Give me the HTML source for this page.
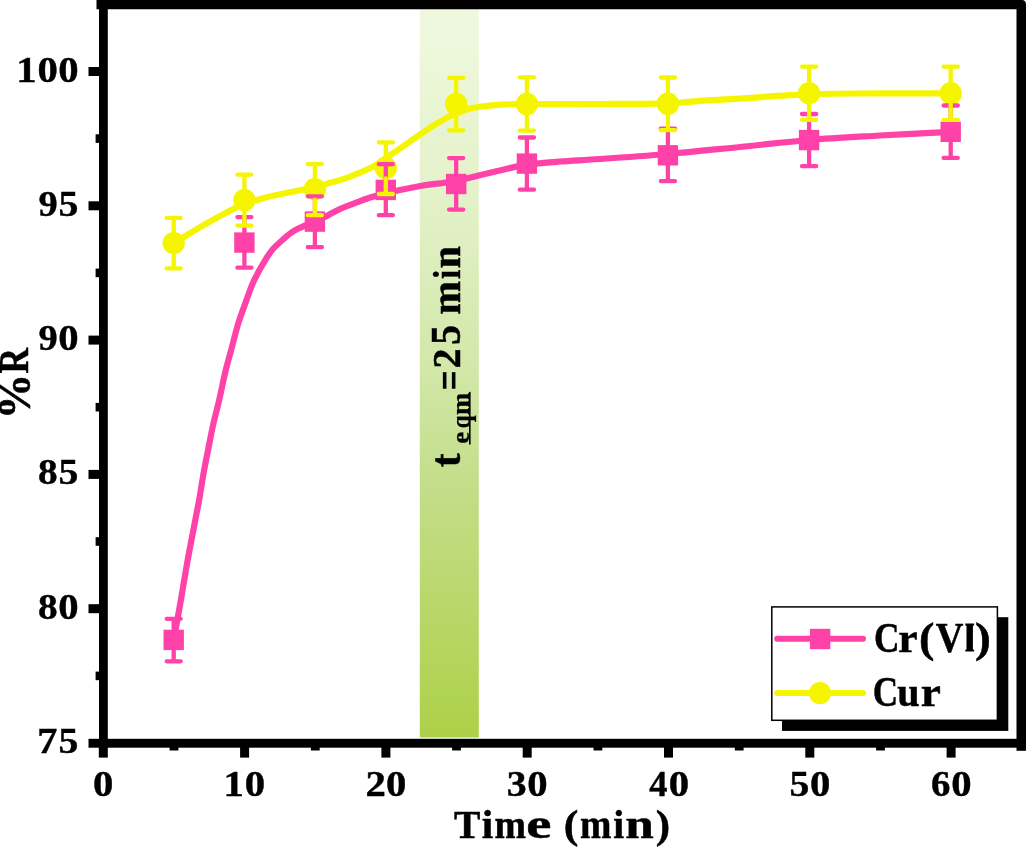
<!DOCTYPE html>
<html><head><meta charset="utf-8"><title>chart</title>
<style>html,body{margin:0;padding:0;background:#fff;}body{width:1026px;height:847px;overflow:hidden;}svg{display:block;will-change:transform;}text{font-family:"Liberation Serif",serif;font-weight:bold;fill:#000;}</style>
</head><body>
<svg width="1026" height="847" viewBox="0 0 1026 847">
<defs><linearGradient id="gb" x1="0" y1="0" x2="0" y2="1"><stop offset="0" stop-color="#F0F9E0"/><stop offset="0.27" stop-color="#E3F1C8"/><stop offset="0.5" stop-color="#D2E7A8"/><stop offset="0.65" stop-color="#C3DE8A"/><stop offset="1" stop-color="#ACD148"/></linearGradient></defs>
<rect width="1026" height="847" fill="#fff"/>
<rect x="419.8" y="5" width="59.0" height="732.5" fill="url(#gb)"/>
<g transform="translate(460 467) rotate(-90)">
<text transform="translate(-0.27 -0.21) scale(1.040 1.035)" font-size="40.0" stroke="#000" stroke-width="0.50">t</text>
<text transform="translate(23.30 9.34) scale(0.675 0.656)" font-size="40.0" stroke="#000" stroke-width="0.30">e</text>
<text transform="translate(38.63 9.92) scale(0.574 0.673)" font-size="40.0" stroke="#000" stroke-width="0.30">q</text>
<text transform="translate(51.98 9.30) scale(0.668 0.654)" font-size="40.0" stroke="#000" stroke-width="0.30">m</text>
<rect x="22.5" y="9.0" width="52.6" height="1.6" fill="#000"/>
<text transform="translate(76.52 3.78) scale(0.892 1.139)" font-size="40.0" stroke="#000" stroke-width="0.20">=</text>
<text transform="translate(98.56 0.00) scale(0.994 1.008)" font-size="40.0" stroke="#000" stroke-width="0.50">2</text>
<text transform="translate(122.37 0.09) scale(0.988 1.034)" font-size="40.0" stroke="#000" stroke-width="0.50">5</text>
<text transform="translate(152.55 0.10) scale(1.003 1.053)" font-size="40.0" stroke="#000" stroke-width="0.50">m</text>
<text transform="translate(187.88 0.10) scale(0.837 0.968)" font-size="40.0" stroke="#000" stroke-width="0.50">i</text>
<text transform="translate(198.85 0.10) scale(0.995 1.053)" font-size="40.0" stroke="#000" stroke-width="0.50">n</text>
</g>
<path d="M173.7 639.9 C174.9 633.2 178.9 611.5 180.9 600.0 C182.9 588.5 184.3 579.6 185.8 570.8 C187.3 562.0 188.6 555.1 190.1 547.2 C191.6 539.3 193.1 531.5 194.6 523.6 C196.1 515.7 197.5 508.8 199.1 500.0 C200.7 491.2 202.4 479.6 204.0 470.8 C205.6 462.0 207.0 455.1 208.6 447.2 C210.2 439.3 211.6 431.5 213.4 423.6 C215.2 415.7 217.2 408.8 219.2 400.0 C221.2 391.2 223.5 379.6 225.6 370.8 C227.7 362.0 229.8 355.1 231.9 347.2 C234.0 339.3 235.8 331.5 238.2 323.6 C240.6 315.7 244.1 306.8 246.5 300.0 C248.9 293.2 250.6 288.2 252.9 283.0 C255.2 277.8 258.1 272.6 260.3 268.6 C262.5 264.6 263.9 262.1 266.0 258.8 C268.1 255.5 270.1 252.3 273.0 249.0 C275.9 245.7 280.3 241.9 283.4 239.2 C286.5 236.4 288.9 234.3 291.5 232.5 C294.1 230.7 296.6 229.4 298.8 228.3 C301.0 227.2 302.0 226.9 304.7 225.7 C307.4 224.5 311.5 222.8 314.9 221.3 C318.3 219.8 321.1 218.8 325.3 216.7 C329.5 214.6 335.3 211.2 340.0 209.0 C344.7 206.8 348.8 205.4 353.6 203.6 C358.4 201.8 363.2 199.7 368.6 198.0 C374.0 196.3 380.4 194.8 385.8 193.4 C391.2 192.0 394.4 191.2 400.8 189.8 C407.2 188.5 417.0 186.5 424.5 185.3 C432.0 184.1 438.5 183.7 445.7 182.5 C452.9 181.3 458.6 180.2 467.6 178.2 C476.7 176.2 490.1 172.7 500.0 170.4 C509.9 168.1 516.9 166.1 526.9 164.6 C536.9 163.1 547.8 162.4 560.0 161.5 C572.2 160.6 582.0 160.2 600.0 159.0 C618.0 157.8 644.6 156.0 667.9 154.0 C691.2 152.0 716.5 149.3 740.0 147.0 C763.5 144.7 785.8 141.9 809.1 140.0 C832.4 138.1 856.4 136.9 880.0 135.5 C903.6 134.1 938.9 132.4 950.7 131.8" fill="none" stroke="#FF42A8" stroke-width="6.2" stroke-linecap="round" stroke-linejoin="round"/>
<rect x="163.5" y="629.7" width="20.4" height="20.4" fill="#FF42A8"/>
<rect x="234.2" y="232.4" width="20.4" height="20.4" fill="#FF42A8"/>
<rect x="304.7" y="211.4" width="20.4" height="20.4" fill="#FF42A8"/>
<rect x="375.6" y="179.7" width="20.4" height="20.4" fill="#FF42A8"/>
<rect x="446.0" y="173.8" width="20.4" height="20.4" fill="#FF42A8"/>
<rect x="516.7" y="153.4" width="20.4" height="20.4" fill="#FF42A8"/>
<rect x="657.7" y="145.1" width="20.4" height="20.4" fill="#FF42A8"/>
<rect x="798.9" y="129.9" width="20.4" height="20.4" fill="#FF42A8"/>
<rect x="940.5" y="121.6" width="20.4" height="20.4" fill="#FF42A8"/>
<path d="M173.7 243.1 C176.2 241.6 182.8 237.5 188.5 234.1 C194.2 230.7 201.5 226.3 208.0 222.6 C214.5 218.9 221.4 215.0 227.5 211.9 C233.6 208.8 237.9 206.4 244.4 204.0 C250.9 201.6 259.6 199.1 266.5 197.3 C273.4 195.5 280.4 194.2 286.0 193.0 C291.6 191.8 295.2 191.3 300.0 190.3 C304.8 189.3 310.0 188.4 314.9 187.2 C319.8 186.0 325.3 184.2 329.4 183.1 C333.4 182.0 335.9 181.4 339.2 180.4 C342.5 179.4 345.7 178.3 349.0 177.1 C352.3 175.9 355.5 174.5 358.8 173.1 C362.1 171.7 366.0 169.9 368.6 168.7 C371.2 167.5 371.6 167.6 374.5 165.8 C377.4 164.1 381.6 161.0 385.8 158.2 C390.0 155.4 395.7 151.5 399.6 148.8 C403.5 146.1 406.1 144.3 409.4 142.0 C412.7 139.7 415.9 137.3 419.2 135.1 C422.5 132.8 425.7 130.6 429.0 128.5 C432.3 126.4 435.5 124.4 438.8 122.4 C442.1 120.5 445.3 118.4 448.6 116.8 C451.9 115.2 455.1 114.0 458.4 112.7 C461.7 111.4 464.9 110.0 468.2 109.1 C471.5 108.1 472.6 107.8 478.0 107.0 C483.4 106.2 494.5 105.1 500.8 104.6 C507.1 104.1 507.4 104.3 515.6 104.2 C523.8 104.1 535.9 104.1 550.0 104.1 C564.1 104.1 580.4 104.1 600.0 104.0 C619.6 103.9 651.2 103.9 667.9 103.4 C684.6 102.9 688.0 101.7 700.0 100.9 C712.0 100.1 721.8 99.7 740.0 98.6 C758.2 97.5 785.8 95.1 809.1 94.2 C832.4 93.3 856.4 93.6 880.0 93.4 C903.6 93.2 938.9 93.3 950.7 93.3" fill="none" stroke="#F5F500" stroke-width="6.2" stroke-linecap="round" stroke-linejoin="round"/>
<circle cx="173.7" cy="243.1" r="11.2" fill="#F5F500"/>
<circle cx="244.4" cy="200.1" r="11.2" fill="#F5F500"/>
<circle cx="314.9" cy="189.2" r="11.2" fill="#F5F500"/>
<circle cx="385.8" cy="168.0" r="11.2" fill="#F5F500"/>
<circle cx="456.2" cy="104.0" r="11.2" fill="#F5F500"/>
<circle cx="526.9" cy="104.0" r="11.2" fill="#F5F500"/>
<circle cx="667.9" cy="103.8" r="11.2" fill="#F5F500"/>
<circle cx="809.1" cy="93.2" r="11.2" fill="#F5F500"/>
<circle cx="950.7" cy="93.3" r="11.2" fill="#F5F500"/>
<path d="M173.7 618.8 V661.3 M166.7 618.8 H180.7 M166.7 661.3 H180.7 M244.4 217.1 V267.7 M237.4 217.1 H251.4 M237.4 267.7 H251.4 M314.9 196.3 V247.2 M307.8 196.3 H321.9 M307.8 247.2 H321.9 M385.8 164.2 V215.2 M378.8 164.2 H392.9 M378.8 215.2 H392.9 M456.2 158.1 V209.6 M449.1 158.1 H463.2 M449.1 209.6 H463.2 M526.9 137.5 V189.7 M519.8 137.5 H534.0 M519.8 189.7 H534.0 M667.9 128.7 V181.2 M660.8 128.7 H675.0 M660.8 181.2 H675.0 M809.1 114.0 V166.2 M802.0 114.0 H816.2 M802.0 166.2 H816.2 M950.7 105.5 V157.9 M943.6 105.5 H957.8 M943.6 157.9 H957.8" fill="none" stroke="#FF42A8" stroke-width="4.3" stroke-linecap="round"/>
<path d="M173.7 217.9 V232.6 M173.7 253.6 V268.4 M166.7 217.9 H180.7 M166.7 268.4 H180.7 M244.4 174.6 V189.6 M244.4 210.6 V225.6 M237.4 174.6 H251.4 M237.4 225.6 H251.4 M314.9 164.1 V178.7 M314.9 199.7 V215.2 M307.8 164.1 H321.9 M307.8 215.2 H321.9 M385.8 142.3 V157.5 M385.8 178.5 V194.0 M378.8 142.3 H392.9 M378.8 194.0 H392.9 M456.2 77.8 V93.5 M456.2 114.5 V130.4 M449.1 77.8 H463.2 M449.1 130.4 H463.2 M526.9 77.3 V93.5 M526.9 114.5 V130.6 M519.8 77.3 H534.0 M519.8 130.6 H534.0 M667.9 77.5 V93.3 M667.9 114.3 V130.2 M660.8 77.5 H675.0 M660.8 130.2 H675.0 M809.1 66.6 V82.7 M809.1 103.7 V119.8 M802.0 66.6 H816.2 M802.0 119.8 H816.2 M950.7 66.7 V82.8 M950.7 103.8 V119.9 M943.6 66.7 H957.8 M943.6 119.9 H957.8" fill="none" stroke="#F5F500" stroke-width="4.3" stroke-linecap="round"/>
<rect x="782" y="617.2" width="226.3" height="113.7" fill="#000"/>
<rect x="771.8" y="606.9" width="225.6" height="113.4" fill="#fff" stroke="#000" stroke-width="1.5"/>
<path d="M777.2 638.7 H863" stroke="#FF42A8" stroke-width="6" stroke-linecap="round"/>
<rect x="809.9" y="628.8" width="20.4" height="20.4" fill="#FF42A8"/>
<path d="M777.2 692.9 H863" stroke="#F5F500" stroke-width="6" stroke-linecap="round"/>
<circle cx="820" cy="693.1" r="11.1" fill="#F5F500"/>
<text transform="translate(874.09 651.60) scale(0.827 1.000)" font-size="42.7" stroke="#000" stroke-width="0.50">C</text>
<text transform="translate(898.26 651.60) scale(1.020 1.000)" font-size="42.7" stroke="#000" stroke-width="0.50">r</text>
<text transform="translate(919.07 651.60) scale(1.084 1.000)" font-size="42.7" stroke="#000" stroke-width="0.50">(</text>
<text transform="translate(935.77 651.60) scale(0.897 1.000)" font-size="42.7" stroke="#000" stroke-width="0.50">V</text>
<text transform="translate(975.02 651.60) scale(1.117 1.000)" font-size="42.7" stroke="#000" stroke-width="0.50">)</text>
<path d="M965.3 623.6 H974.1 V625.3 L972.9 625.9 V649.3 L974.1 649.9 V651.6 H965.3 V649.9 L966.5 649.3 V625.9 L965.3 625.3 Z" fill="#000"/>
<text transform="translate(872.79 706.20) scale(0.823 1.000)" font-size="42.7" stroke="#000" stroke-width="0.50">C</text>
<text transform="translate(897.35 706.20) scale(0.941 1.000)" font-size="42.7" stroke="#000" stroke-width="0.50">u</text>
<text transform="translate(920.72 706.20) scale(1.061 1.000)" font-size="42.7" stroke="#000" stroke-width="0.50">r</text>
<g fill="#000">
<path d="M96.5 0 H1022 Q1026 0.2 1026 4.2 V9.3 H96.5 Z"/>
<rect x="99" y="0" width="8.8" height="747.5"/>
<rect x="1016.5" y="4.2" width="9.5" height="746.6"/>
<rect x="88.5" y="738.8" width="937.5" height="8.9"/>
<rect x="88.5" y="67.0" width="11" height="9" />
<rect x="88.5" y="201.3" width="11" height="9" />
<rect x="88.5" y="335.6" width="11" height="9" />
<rect x="88.5" y="469.9" width="11" height="9" />
<rect x="88.5" y="604.2" width="11" height="9" />
<rect x="95.6" y="134.3" width="4" height="8.6" />
<rect x="95.6" y="268.6" width="4" height="8.6" />
<rect x="95.6" y="402.9" width="4" height="8.6" />
<rect x="95.6" y="537.2" width="4" height="8.6" />
<rect x="95.6" y="671.6" width="4" height="8.6" />
<rect x="98.8" y="745" width="9" height="12.6" />
<rect x="240.1" y="745" width="9" height="12.6" />
<rect x="381.4" y="745" width="9" height="12.6" />
<rect x="522.7" y="745" width="9" height="12.6" />
<rect x="664.0" y="745" width="9" height="12.6" />
<rect x="805.3" y="745" width="9" height="12.6" />
<rect x="946.6" y="745" width="9" height="12.6" />
<rect x="169.6" y="745" width="8.8" height="5.5" />
<rect x="310.9" y="745" width="8.8" height="5.5" />
<rect x="452.1" y="745" width="8.8" height="5.5" />
<rect x="593.5" y="745" width="8.8" height="5.5" />
<rect x="734.8" y="745" width="8.8" height="5.5" />
<rect x="876.1" y="745" width="8.8" height="5.5" />
</g>
<text transform="translate(16.29 81.50) scale(1.134 1.000)" font-size="36.0" stroke="#000" stroke-width="0.40">1</text>
<text transform="translate(37.62 81.50) scale(1.131 1.000)" font-size="36.0" stroke="#000" stroke-width="0.40">0</text>
<text transform="translate(58.32 81.50) scale(1.131 1.000)" font-size="36.0" stroke="#000" stroke-width="0.40">0</text>
<text transform="translate(38.39 215.80) scale(1.067 1.000)" font-size="36.0" stroke="#000" stroke-width="0.40">9</text>
<text transform="translate(58.46 215.80) scale(1.105 1.000)" font-size="36.0" stroke="#000" stroke-width="0.40">5</text>
<text transform="translate(38.39 350.10) scale(1.067 1.000)" font-size="36.0" stroke="#000" stroke-width="0.40">9</text>
<text transform="translate(58.32 350.10) scale(1.131 1.000)" font-size="36.0" stroke="#000" stroke-width="0.40">0</text>
<text transform="translate(37.97 484.40) scale(1.092 1.000)" font-size="36.0" stroke="#000" stroke-width="0.40">8</text>
<text transform="translate(58.46 484.40) scale(1.105 1.000)" font-size="36.0" stroke="#000" stroke-width="0.40">5</text>
<text transform="translate(37.97 618.70) scale(1.092 1.000)" font-size="36.0" stroke="#000" stroke-width="0.40">8</text>
<text transform="translate(58.32 618.70) scale(1.131 1.000)" font-size="36.0" stroke="#000" stroke-width="0.40">0</text>
<text transform="translate(37.14 753.00) scale(1.118 1.000)" font-size="36.0" stroke="#000" stroke-width="0.40">7</text>
<text transform="translate(58.46 753.00) scale(1.105 1.000)" font-size="36.0" stroke="#000" stroke-width="0.40">5</text>
<text transform="translate(93.12 795.50) scale(1.131 1.000)" font-size="36.0" stroke="#000" stroke-width="0.40">0</text>
<text transform="translate(223.44 795.50) scale(1.134 1.000)" font-size="36.0" stroke="#000" stroke-width="0.40">1</text>
<text transform="translate(244.77 795.50) scale(1.131 1.000)" font-size="36.0" stroke="#000" stroke-width="0.40">0</text>
<text transform="translate(365.47 795.50) scale(1.131 1.000)" font-size="36.0" stroke="#000" stroke-width="0.40">2</text>
<text transform="translate(386.07 795.50) scale(1.131 1.000)" font-size="36.0" stroke="#000" stroke-width="0.40">0</text>
<text transform="translate(506.81 795.50) scale(1.105 1.000)" font-size="36.0" stroke="#000" stroke-width="0.40">3</text>
<text transform="translate(527.37 795.50) scale(1.131 1.000)" font-size="36.0" stroke="#000" stroke-width="0.40">0</text>
<text transform="translate(649.15 795.50) scale(1.010 1.000)" font-size="36.0" stroke="#000" stroke-width="0.40">4</text>
<text transform="translate(668.67 795.50) scale(1.131 1.000)" font-size="36.0" stroke="#000" stroke-width="0.40">0</text>
<text transform="translate(789.41 795.50) scale(1.105 1.000)" font-size="36.0" stroke="#000" stroke-width="0.40">5</text>
<text transform="translate(809.97 795.50) scale(1.131 1.000)" font-size="36.0" stroke="#000" stroke-width="0.40">0</text>
<text transform="translate(930.94 795.50) scale(1.079 1.000)" font-size="36.0" stroke="#000" stroke-width="0.40">6</text>
<text transform="translate(951.27 795.50) scale(1.131 1.000)" font-size="36.0" stroke="#000" stroke-width="0.40">0</text>
<text transform="translate(454.06 838.30) scale(0.962 1.000)" font-size="41.1" stroke="#000" stroke-width="0.50">T</text>
<text transform="translate(481.83 838.30) scale(1.003 1.000)" font-size="41.1" stroke="#000" stroke-width="0.50">i</text>
<text transform="translate(494.60 838.30) scale(0.921 1.000)" font-size="41.1" stroke="#000" stroke-width="0.50">m</text>
<text transform="translate(526.27 838.30) scale(1.378 1.000)" font-size="41.1" stroke="#000" stroke-width="0.50">e</text>
<text transform="translate(563.77 838.30) scale(1.069 1.000)" font-size="41.1" stroke="#000" stroke-width="0.50">(</text>
<text transform="translate(580.01 838.30) scale(0.918 1.000)" font-size="41.1" stroke="#000" stroke-width="0.50">m</text>
<text transform="translate(613.37 838.30) scale(0.953 1.000)" font-size="41.1" stroke="#000" stroke-width="0.50">i</text>
<text transform="translate(625.27 838.30) scale(1.247 1.000)" font-size="41.1" stroke="#000" stroke-width="0.50">n</text>
<text transform="translate(655.66 838.30) scale(1.048 1.000)" font-size="41.1" stroke="#000" stroke-width="0.50">)</text>
<g transform="translate(28.2 414.7) rotate(-90)">
<text transform="translate(-4.53 1.52) scale(1.137 1.136)" font-size="40.0" stroke="#000" stroke-width="0.50">%</text>
<text transform="translate(41.12 0.00) scale(0.881 1.042)" font-size="40.0" stroke="#000" stroke-width="0.50">R</text>
</g>
</svg></body></html>
